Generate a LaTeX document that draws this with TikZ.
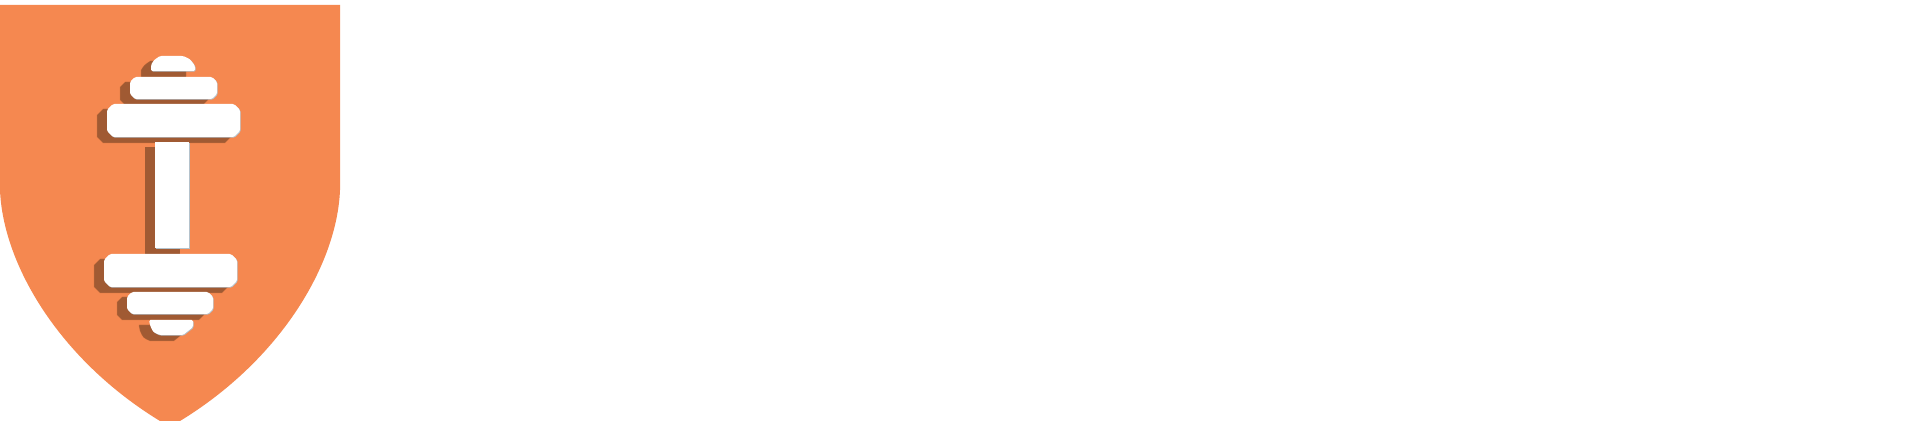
\documentclass[tikz,border=0pt]{standalone}
\definecolor{shieldc}{HTML}{F58850}
\definecolor{shadec}{HTML}{A05A33}
\definecolor{shadeblur}{HTML}{C9713F}
\definecolor{edgec}{HTML}{B4C2CC}
\newcommand{\platepath}[5]{(#1+#5,#2) -- (#3-#5,#2) -- (#3,#2+#5) -- (#3,#4-#5) -- (#3-#5,#4) -- (#1+#5,#4) -- (#1,#4-#5) -- (#1,#2+#5) -- cycle}
\newcommand{\capup}[4]{(#1,#4) -- (#1,#2+9) .. controls (#1+3,#2+4) .. (#1+9,#2) -- (#3-12,#2) .. controls (#3-5,#2+3) .. (#3,#2+10) -- (#3,#4) -- cycle}
\newcommand{\capdown}[4]{(#1,#2) -- (#1+1,#2+5) .. controls (#1+4,#4-3) .. (#1+11,#4) -- (#3-10,#4) -- (#3,#2+7) -- (#3,#2) -- cycle}
\newcommand{\withlayers}[1]{%
  \fill[shadeblur,shift={(-9.5,5.5)},draw=shadeblur,line width=0.03cm,line join=round] #1;
  \fill[shadec,shift={(-9.5,5.5)},draw=shadec,line width=0.01cm,line join=round] #1;}
\newcommand{\toplayer}[1]{%
  \fill[edgec,shift={(0.7,0.7)},rounded corners=0.8pt] #1;
  \fill[white,rounded corners=0.8pt] #1;}
\begin{document}
\begin{tikzpicture}[x=0.02cm,y=-0.02cm]
\useasboundingbox (0,0) rectangle (1913,421);
\fill[white] (0,0) rectangle (1913,421);
\fill[shieldc] (0,5) -- (340,5) -- (340,190)
  .. controls (337,265) and (280,360) .. (180,421)
  -- (160,421)
  .. controls (60,360) and (3,265) .. (0,190) -- cycle;
% shadows
\withlayers{\capup{151}{56}{195}{71}}
\withlayers{\platepath{130}{77}{217}{99}{5}}
\withlayers{\platepath{107}{104}{240}{137}{6}}
\withlayers{(155,142) rectangle (189,248)}
\withlayers{\platepath{104}{254}{237}{287}{6}}
\withlayers{\platepath{127}{292}{213}{314}{5}}
\withlayers{\capdown{149}{320}{193}{335}}
% white shapes
\toplayer{\capup{151}{56}{195}{71}}
\toplayer{\platepath{130}{77}{217}{99}{5}}
\toplayer{\platepath{107}{104}{240}{137}{6}}
\fill[edgec] (155.7,142.7) rectangle (189.7,248.7);
\fill[white] (155,142) rectangle (189,248);
\toplayer{\platepath{104}{254}{237}{287}{6}}
\toplayer{\platepath{127}{292}{213}{314}{5}}
\toplayer{\capdown{149}{320}{193}{335}}
\end{tikzpicture}
\end{document}
